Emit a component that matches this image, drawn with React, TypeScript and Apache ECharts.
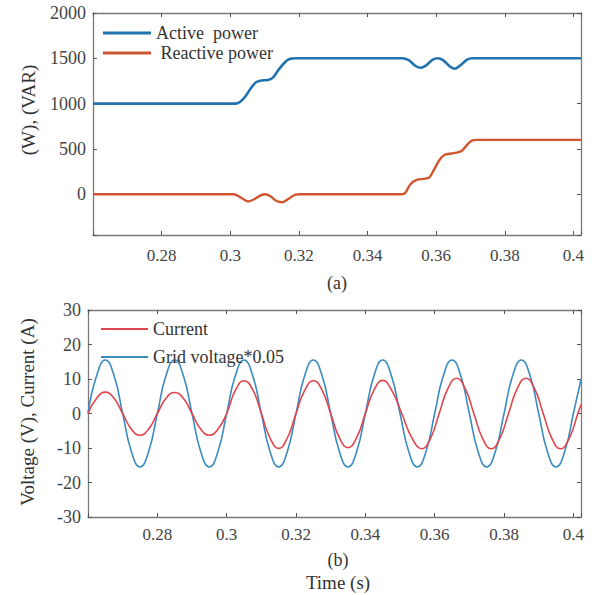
import React, { useEffect, useRef } from "react";
import * as echarts from "echarts";

// ---------- Data ----------
const activeT = [0.26, 0.3, 0.302, 0.304, 0.306, 0.3075, 0.309, 0.311, 0.3125, 0.314, 0.316, 0.3175, 0.319, 0.35, 0.352, 0.354, 0.3555, 0.357, 0.359, 0.3605, 0.362, 0.364, 0.3655, 0.367, 0.369, 0.3705, 0.4022];
const activeP = [1000, 1000, 1003, 1060, 1170, 1235, 1255, 1260, 1290, 1370, 1460, 1495, 1500, 1500, 1480, 1415, 1395, 1420, 1485, 1500, 1480, 1410, 1385, 1420, 1485, 1500, 1500];

const reactiveT = [0.26, 0.301, 0.303, 0.3052, 0.307, 0.309, 0.3103, 0.3118, 0.3135, 0.3152, 0.317, 0.319, 0.3205, 0.35, 0.351, 0.3525, 0.3545, 0.3565, 0.358, 0.3595, 0.361, 0.3625, 0.3645, 0.366, 0.3675, 0.369, 0.3705, 0.372, 0.4022];
const reactiveQ = [0, 0, -35, -80, -55, -10, 0, -25, -75, -88, -50, -5, 0, 0, 15, 110, 160, 170, 185, 280, 380, 435, 450, 460, 480, 545, 595, 600, 600];

const voltT = [0.26, 0.2625, 0.265, 0.2675, 0.27, 0.2725, 0.275, 0.2775, 0.28, 0.2825, 0.285, 0.2875, 0.29, 0.2925, 0.295, 0.2975, 0.3, 0.3025, 0.305, 0.3075, 0.31, 0.3125, 0.315, 0.3175, 0.32, 0.3225, 0.325, 0.3275, 0.33, 0.3325, 0.335, 0.3375, 0.34, 0.3425, 0.345, 0.3475, 0.35, 0.3525, 0.355, 0.3575, 0.36, 0.3625, 0.365, 0.3675, 0.37, 0.3725, 0.375, 0.3775, 0.38, 0.3825, 0.385, 0.3875, 0.39, 0.3925, 0.395, 0.3975, 0.4, 0.4022];
const voltV = [0, 11, 15.5, 11, 0, -11, -15.5, -11, 0, 11, 15.5, 11, 0, -11, -15.5, -11, 0, 11, 15.5, 11, 0, -11, -15.5, -11, 0, 11, 15.5, 11, 0, -11, -15.5, -11, 0, 11, 15.5, 11, 0, -11, -15.5, -11, 0, 11, 15.5, 11, 0, -11, -15.5, -11, 0, 11, 15.5, 11, 0, -11, -15.5, -11, 0, 9.9];

const currT = [0.26, 0.2625, 0.265, 0.2675, 0.27, 0.2725, 0.275, 0.2775, 0.28, 0.2825, 0.285, 0.2875, 0.29, 0.2925, 0.295, 0.2975, 0.3, 0.3025, 0.305, 0.3075, 0.31, 0.3125, 0.315, 0.3175, 0.32, 0.3225, 0.325, 0.3275, 0.33, 0.3325, 0.335, 0.3375, 0.34, 0.3425, 0.345, 0.3475, 0.3505, 0.3535, 0.3563, 0.3588, 0.3613, 0.3638, 0.3663, 0.3688, 0.3713, 0.3738, 0.3763, 0.3788, 0.3813, 0.3838, 0.3863, 0.3888, 0.3913, 0.3938, 0.3963, 0.3988, 0.4013, 0.4022];
const currI = [0, 4.4, 6.2, 4.4, 0, -4.5, -6.3, -4.5, 0, 4.4, 6.1, 4.4, 0, -4.5, -6.3, -4.5, 0, 6.7, 9.5, 6.9, 0, -7.1, -10.1, -7.1, 0, 6.7, 9.5, 6.8, 0, -7.0, -9.9, -7.0, 0, 6.8, 9.6, 6.9, 0, -7.2, -10.2, -7.2, 0, 7.2, 10.2, 7.2, 0, -7.2, -10.2, -7.2, 0, 7.2, 10.2, 7.2, 0, -7.2, -10.2, -7.2, 0, 2.6];

const topLegend = ["Active  power", " Reactive power"];
const bottomLegend = ["Current", "Grid voltage*0.05"];

const X_MIN = 0.26;
const X_MAX = 0.4022;

const FONT = "Liberation Serif, Times New Roman, serif";
const AXIS_COLOR = "#7a7a7a";
const LABEL_COLOR = "#444";

const zip = (a: number[], b: number[]) => a.map((v, i) => [v, b[i]]);

const isMultiple = (v: number, step: number) =>
  Math.abs(v / step - Math.round(v / step)) < 1e-6;

const xLabel = (v: number) => {
  if (!isMultiple(v, 0.02) || v < 0.27) return "";
  return String(parseFloat(v.toFixed(2)));
};

export default function App() {
  const ref = useRef<HTMLDivElement>(null);

  useEffect(() => {
    if (!ref.current) return;
    const chart = echarts.init(ref.current, null, { renderer: "svg" });

    const axisLine = { show: true, onZero: false, lineStyle: { color: AXIS_COLOR, width: 1.3 } };
    const axisTick = { show: true, inside: true, length: 4, lineStyle: { color: "#555", width: 1 } };

    const xLabelStyle = { color: LABEL_COLOR, fontFamily: FONT, fontSize: 17 };
    const yLabelStyle = { color: LABEL_COLOR, fontFamily: FONT, fontSize: 18 };

    const xAxisBase = (gridIndex: number, position: "bottom" | "top", labels: boolean, margin: number) => ({
      type: "value",
      gridIndex,
      position,
      min: X_MIN,
      max: X_MAX,
      interval: 0.02,
      axisLine,
      axisTick,
      splitLine: { show: false },
      axisLabel: labels
        ? { show: true, formatter: xLabel, ...xLabelStyle, margin }
        : { show: false },
    });

    const yTop = (position: "left" | "right", labels: boolean) => ({
      type: "value",
      gridIndex: 0,
      position,
      min: -450,
      max: 2000,
      minInterval: 500,
      maxInterval: 500,
      splitNumber: 5,
      axisLine,
      axisTick,
      splitLine: { show: false },
      axisLabel: labels
        ? {
            show: true,
            ...yLabelStyle,
            margin: 7,
            formatter: (v: number) => (isMultiple(v, 500) ? String(Math.round(v)) : ""),
          }
        : { show: false },
    });

    const yBottom = (position: "left" | "right", labels: boolean) => ({
      type: "value",
      gridIndex: 1,
      position,
      min: -30,
      max: 30,
      interval: 10,
      axisLine,
      axisTick,
      splitLine: { show: false },
      axisLabel: labels
        ? { show: true, ...yLabelStyle, margin: 7, formatter: (v: number) => String(Math.round(v)) }
        : { show: false },
    });

    const legendText = { color: "#333", fontFamily: FONT, fontSize: 18, lineHeight: 18 };

    chart.setOption({
      animation: false,
      backgroundColor: "#ffffff",
      textStyle: { fontFamily: FONT },
      grid: [
        { left: 93, right: 26, top: 13, height: 222, containLabel: false },
        { left: 88, right: 26, top: 310, height: 207, containLabel: false },
      ],
      xAxis: [
        xAxisBase(0, "bottom", true, 12),
        xAxisBase(0, "top", false, 0),
        xAxisBase(1, "bottom", true, 9),
        xAxisBase(1, "top", false, 0),
      ],
      yAxis: [yTop("left", true), yTop("right", false), yBottom("left", true), yBottom("right", false)],
      legend: [
        {
          data: topLegend,
          orient: "vertical",
          left: 98,
          top: 19,
          itemGap: 2,
          itemWidth: 48,
          itemHeight: 3,
          icon: "rect",
          textStyle: legendText,
        },
        {
          data: bottomLegend,
          orient: "vertical",
          left: 96,
          top: 315,
          itemGap: 10,
          itemWidth: 47,
          itemHeight: 2,
          icon: "rect",
          textStyle: legendText,
        },
      ],
      series: [
        {
          name: topLegend[0],
          type: "line",
          xAxisIndex: 0,
          yAxisIndex: 0,
          data: zip(activeT, activeP),
          smooth: 0.3,
          showSymbol: false,
          color: "#2272b0",
          lineStyle: { width: 2.6, color: "#2272b0" },
        },
        {
          name: topLegend[1],
          type: "line",
          xAxisIndex: 0,
          yAxisIndex: 0,
          data: zip(reactiveT, reactiveQ),
          smooth: 0.3,
          showSymbol: false,
          color: "#cf5630",
          lineStyle: { width: 2.4, color: "#cf5630" },
        },
        {
          name: bottomLegend[1],
          type: "line",
          xAxisIndex: 2,
          yAxisIndex: 2,
          data: zip(voltT, voltV),
          smooth: 0.5,
          showSymbol: false,
          color: "#3a8cbf",
          lineStyle: { width: 1.6, color: "#3a8cbf" },
        },
        {
          name: bottomLegend[0],
          type: "line",
          xAxisIndex: 2,
          yAxisIndex: 2,
          data: zip(currT, currI),
          smooth: 0.5,
          showSymbol: false,
          color: "#e0454f",
          lineStyle: { width: 1.6, color: "#e0454f" },
        },
      ],
      graphic: [
        {
          type: "text",
          x: 28,
          y: 110,
          rotation: Math.PI / 2,
          style: { text: "(W), (VAR)", font: `19px ${FONT}`, fill: "#333", align: "center", verticalAlign: "middle" },
        },
        {
          type: "text",
          x: 27,
          y: 412,
          rotation: Math.PI / 2,
          style: { text: "Voltage (V), Current (A)", font: `19px ${FONT}`, fill: "#333", align: "center", verticalAlign: "middle" },
        },
        {
          type: "text",
          x: 337,
          y: 283,
          style: { text: "(a)", font: `18px ${FONT}`, fill: "#333", align: "center", verticalAlign: "middle" },
        },
        {
          type: "text",
          x: 338,
          y: 560,
          style: { text: "(b)", font: `18px ${FONT}`, fill: "#333", align: "center", verticalAlign: "middle" },
        },
        {
          type: "text",
          x: 338,
          y: 582,
          style: { text: "Time (s)", font: `19px ${FONT}`, fill: "#333", align: "center", verticalAlign: "middle" },
        },
      ],
    });

    return () => chart.dispose();
  }, []);

  return <div ref={ref} style={{ width: 607, height: 595, position: "absolute", left: 0, top: 0 }} />;
}
